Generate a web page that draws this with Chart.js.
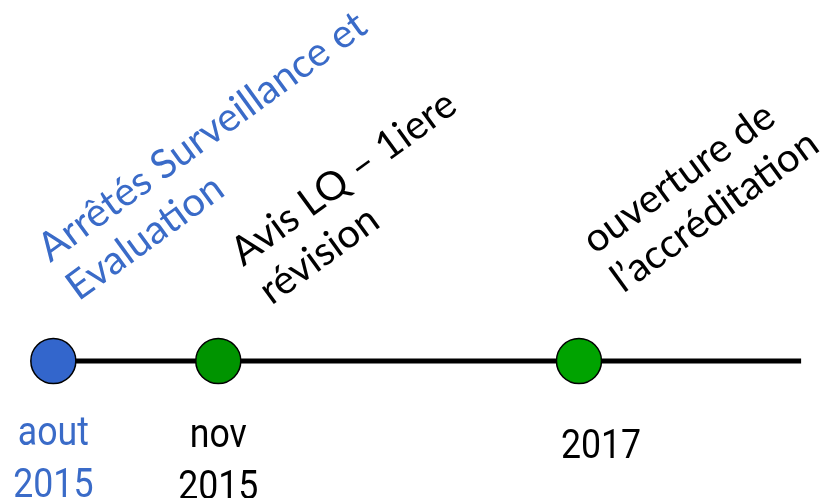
<!DOCTYPE html>
<html>
<head>
<meta charset="utf-8">
<script src="https://cdn.jsdelivr.net/npm/chart.js@4/dist/chart.umd.min.js"></script>
<style>
  html, body { margin: 0; padding: 0; background: #ffffff; }
  #wrap { width: 833px; height: 498px; position: relative; }
</style>
</head>
<body>
<div id="wrap"><canvas id="c" width="833" height="498"></canvas></div>
<script>
// ---- data ----
// event positions on the timeline (months after August 2015, estimated)
const eventX = [0, 3, 9.56];
const eventY = [0, 0, 0];
const dateLine1 = ["aout", "nov", "2017"];
const dateLine2 = ["2015", "2015", ""];
const captionLine1 = ["Arrêtés Surveillance et", "Avis LQ – 1iere", "ouverture de"];
const captionLine2 = ["Evaluation", "révision", "l’accréditation"];
const lineStartX = 0;
const lineEndX = 13.6;

// ---- styles ----
const pointFill = ["#3366CC", "#009400", "#00A300"];
const textColor = ["#3A6BC8", "#000000", "#000000"];
const dateOffsetX = [0, 0, 22];
const dateOffsetY = [84, 86, 97];
const capOffset = [[-3, -98], [25, -94], [16, -106]];

const labelPlugin = {
  id: 'timelineLabels',
  afterDatasetsDraw(chart) {
    const ctx = chart.ctx;
    const xs = chart.scales.x, ys = chart.scales.y;
    ctx.save();
    for (let i = 0; i < eventX.length; i++) {
      const px = xs.getPixelForValue(eventX[i]);
      const py = ys.getPixelForValue(eventY[i]);
      // date labels (condensed look)
      ctx.fillStyle = textColor[i];
      ctx.save();
      ctx.translate(px + dateOffsetX[i], py);
      ctx.scale(0.87, 1);
      ctx.font = '41px "Roboto", sans-serif';
      ctx.textAlign = 'center';
      ctx.textBaseline = 'alphabetic';
      ctx.fillText(dateLine1[i], 0, dateOffsetY[i]);
      if (dateLine2[i]) ctx.fillText(dateLine2[i], 0, dateOffsetY[i] + 52);
      ctx.restore();
      // rotated captions
      ctx.save();
      ctx.translate(px + capOffset[i][0], py + capOffset[i][1]);
      ctx.rotate(-36 * Math.PI / 180);
      ctx.font = '40px "Lato", "Open Sans", sans-serif';
      ctx.textAlign = 'left';
      ctx.textBaseline = 'alphabetic';
      ctx.fillText(captionLine1[i], 0, 0);
      ctx.fillText(captionLine2[i], 0, 48);
      ctx.restore();
    }
    ctx.restore();
  }
};

new Chart(document.getElementById('c'), {
  type: 'scatter',
  data: {
    datasets: [
      {
        label: 'events',
        data: eventX.map((x, i) => ({ x: x, y: eventY[i] })),
        pointRadius: 22.5,
        pointHoverRadius: 22.5,
        pointBackgroundColor: pointFill,
        pointBorderColor: '#000000',
        pointBorderWidth: 1.5,
        showLine: false,
        clip: false
      },
      {
        label: 'timeline',
        data: [{ x: lineStartX, y: 0 }, { x: lineEndX, y: 0 }],
        showLine: true,
        borderColor: '#000000',
        borderWidth: 5,
        pointRadius: 0,
        pointHoverRadius: 0,
        clip: false
      }
    ]
  },
  options: {
    responsive: false,
    animation: false,
    layout: { padding: 0, autoPadding: false },
    plugins: { legend: { display: false }, tooltip: { enabled: false } },
    events: [],
    scales: {
      x: { type: 'linear', display: false, min: -0.97, max: 14.18 },
      y: { type: 'linear', display: false, min: -137, max: 361 }
    }
  },
  plugins: [labelPlugin]
});
</script>
</body>
</html>
